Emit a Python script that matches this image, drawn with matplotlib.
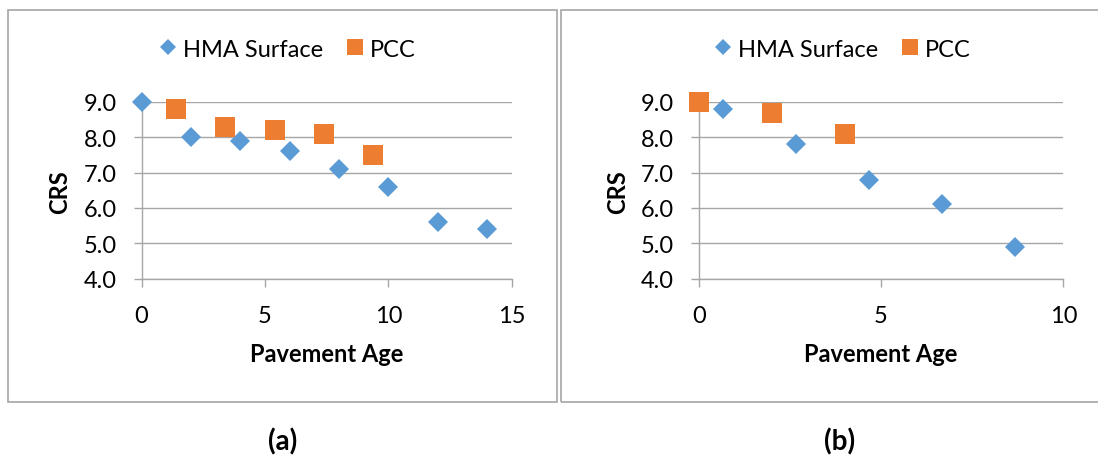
import matplotlib

matplotlib.use("Agg")
import matplotlib.pyplot as plt
from matplotlib.lines import Line2D
from matplotlib.patches import Rectangle

plt.rcParams["font.family"] = ["Lato", "DejaVu Sans"]

# panel (a)
a_hma_age = [0, 2, 4, 6, 8, 10, 12, 14]
a_hma_crs = [9.0, 8.0, 7.9, 7.6, 7.1, 6.6, 5.6, 5.4]
a_pcc_age = [1.4, 3.4, 5.4, 7.4, 9.4]
a_pcc_crs = [8.8, 8.3, 8.2, 8.1, 7.5]
# panel (b)
b_hma_age = [0.67, 2.67, 4.67, 6.67, 8.67]
b_hma_crs = [8.8, 7.8, 6.8, 6.1, 4.9]
b_pcc_age = [0, 2, 4]
b_pcc_crs = [9.0, 8.7, 8.1]

y_ticks = [4.0, 5.0, 6.0, 7.0, 8.0, 9.0]
series_names = ["HMA Surface", "PCC"]
panel_tags = ["(a)", "(b)"]

BLUE = "#5b9bd5"
ORANGE = "#ed7d31"
GRID = "#a6a6a6"
W, H = 1098, 460
FS = 17


def fx(x):
    return x / W


def fy(y):
    return 1 - y / H


fig = plt.figure(figsize=(W / 100, H / 100), dpi=100, facecolor="white")

# outer chart frames
for x0, x1 in [(8.3, 557.3), (560.7, 1118)]:
    fig.patches.append(Rectangle((fx(x0), fy(402.7)), fx(x1 - x0), (402.7 - 10.7) / H,
                                 transform=fig.transFigure, fill=False, edgecolor=GRID, lw=1.2))


def draw_panel(left_px, right_px, xmax, xstep, hma, pcc, tag, frame_cx):
    ax = fig.add_axes([fx(left_px), fy(279.5), fx(right_px - left_px), (279.5 - 103) / H])
    ax.plot(hma[0], hma[1], ls="none", marker="D", ms=10.2, mew=0, color=BLUE, clip_on=False, zorder=4)
    ax.plot(pcc[0], pcc[1], ls="none", marker="s", ms=13.7, mew=0, color=ORANGE, clip_on=False, zorder=5)
    ax.set_xlim(0, xmax)
    ax.set_ylim(4, 9)
    ax.set_xticks(range(0, xmax + 1, xstep))
    ax.set_yticks(y_ticks)
    ax.set_yticklabels([f"{v:.1f}" for v in y_ticks])
    ax.grid(axis="y", color=GRID, lw=1.0)
    ax.set_axisbelow(True)
    for side in ["top", "right"]:
        ax.spines[side].set_visible(False)
    for side in ["left", "bottom"]:
        ax.spines[side].set_color(GRID)
        ax.spines[side].set_linewidth(1.0)
    ax.tick_params(axis="both", direction="out", length=6, width=1.0, color=GRID, labelsize=FS)
    ax.tick_params(axis="y", pad=12)
    ax.tick_params(axis="x", pad=13)

    handles = [
        Line2D([], [], ls="none", marker="D", ms=8.5, mew=0, color=BLUE),
        Line2D([], [], ls="none", marker="s", ms=12, mew=0, color=ORANGE),
    ]
    ax.legend(handles, series_names, loc="center", bbox_to_anchor=(0.394, 1.30), ncol=2,
              frameon=False, fontsize=FS, handlelength=0.8, handletextpad=0.23, columnspacing=0.95)

    cx = (left_px + right_px) / 2
    fig.text(fx(left_px - 81.5), fy(192), "CRS", rotation=90, ha="center", va="center",
             fontsize=FS, fontweight="bold")
    fig.text(fx(cx), fy(355), "Pavement Age", ha="center", va="center", fontsize=FS, fontweight="bold")
    fig.text(fx(frame_cx), fy(442), tag, ha="center", va="center", fontsize=20, fontweight="bold")
    return ax


draw_panel(141.5, 511.7, 15, 5, (a_hma_age, a_hma_crs), (a_pcc_age, a_pcc_crs), panel_tags[0], 283)
draw_panel(698.8, 1063.3, 10, 5, (b_hma_age, b_hma_crs), (b_pcc_age, b_pcc_crs), panel_tags[1], 839.5)

fig.savefig("out.png", dpi=100, facecolor="white")
